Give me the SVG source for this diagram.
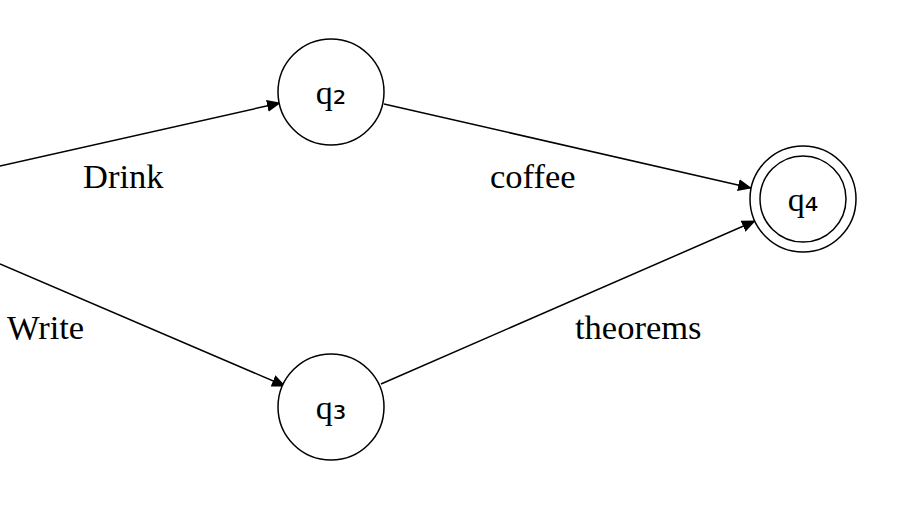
<svg xmlns="http://www.w3.org/2000/svg" width="918" height="517" viewBox="0 0 918 517">
<style>
.st{fill:#fff;stroke:#000;stroke-width:1.5}
.lbl{font-family:"Liberation Serif","DejaVu Serif",serif;font-size:34.5px;fill:#000}
.ql{font-family:"Liberation Serif","DejaVu Serif",serif;font-size:34px;fill:#000;text-anchor:middle}
.sub{font-family:"DejaVu Sans",sans-serif}
.e{fill:none;stroke:#000;stroke-width:1.5;marker-end:url(#ah)}
</style>
<defs>
<marker id="ah" markerWidth="14" markerHeight="12" refX="13" refY="6" orient="auto" markerUnits="userSpaceOnUse">
<path d="M0,0 L14,6 L0,12 Z" fill="#000"/>
</marker>
</defs>
<rect width="918" height="517" fill="#fff"/>
<g id="connectors">
<path class="e" d="M0,166 L280,103"/>
<path class="e" d="M0,264 L285,386"/>
<path class="e" d="M384,104 L751,188"/>
<path class="e" d="M381,384 L755,221"/>
<text class="lbl" x="83" y="188">Drink</text>
<text class="lbl" x="7" y="339">Write</text>
<text class="lbl" x="490" y="188">coffee</text>
<text class="lbl" x="575" y="339">theorems</text>
</g>
<g id="q2">
<circle class="st" cx="331" cy="92" r="53"/>
<text class="ql" x="331" y="104">q<tspan class="sub">₂</tspan></text>
</g>
<g id="q3">
<circle class="st" cx="331" cy="407" r="53"/>
<text class="ql" x="331" y="419">q<tspan class="sub">₃</tspan></text>
</g>
<g id="q4">
<circle class="st" cx="803" cy="199" r="53"/>
<circle class="st" cx="803" cy="199" r="43"/>
<text class="ql" x="803" y="211">q<tspan class="sub">₄</tspan></text>
</g>
</svg>
